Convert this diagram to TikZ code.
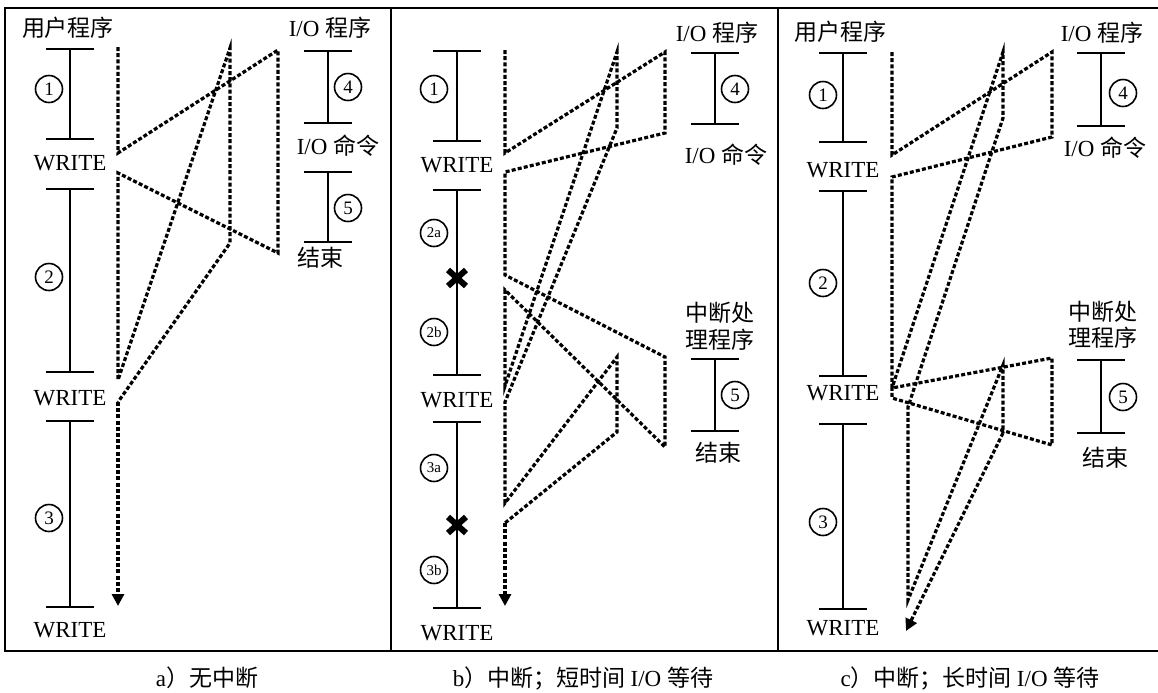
\documentclass[tikz,border=0pt]{standalone}
\usepackage{fontspec}
\setmainfont{Liberation Serif}
\newfontfamily\cjk{Noto Sans CJK SC}
\usetikzlibrary{arrows.meta,positioning}
\tikzset{
  prog/.style={line width=1.1pt,{Bar[width=24pt]}-{Bar[width=24pt]}},
  flow/.style={line width=1.6pt,dash pattern=on 2pt off 1.1pt},
  endarrow/.style={-{Triangle[length=6pt,width=6pt]}},
  num/.style={draw,circle,line width=0.8pt,minimum size=13.5pt,inner sep=0pt,
    font=\fontsize{9.5}{9.5}\selectfont},
  subnum/.style={num,font=\fontsize{7.5}{7.5}\selectfont},
  lbl/.style={font=\fontsize{11.5}{13}\selectfont,inner sep=1pt},
  capt/.style={font=\fontsize{11.5}{13}\selectfont},
  intr/.style={line width=3pt},
  frame/.style={line width=1.1pt},
}

\begin{document}
\begin{tikzpicture}[x=0.5pt,y=-0.5pt]

\useasboundingbox (0,0) rectangle (1158,692);
\fill[white] (0,0) rectangle (1158,692);

% frames
\draw[frame] (1158,8) -- (5,8) -- (5,651) -- (1158,651);
\draw[frame] (391,8) -- (391,651);
\draw[frame] (778,8) -- (778,651);

% ---- a) no interrupt
\node[lbl] (usera) at (68,28) {\cjk 用户程序};
\node[lbl] (ioa) at (330,28) {I/O \cjk 程序};
\node[lbl] (cmda) at (338,146) {I/O \cjk 命令};
\node[lbl] (enda) at (320,258) {\cjk 结束};
\node[lbl] (wa1) at (70,163) {WRITE};
\node[lbl] (wa2) at (70,398) {WRITE};
\node[lbl] (wa3) at (70,630) {WRITE};
\node[num] (na1) at (49,89) {1};
\node[num] (na2) at (49,277) {2};
\node[num] (na3) at (49,518) {3};
\node[num] (na4) at (348,87) {4};
\node[num] (na5) at (348,208) {5};

\draw[prog] (70,48) -- (70,140);
\draw[prog] (70,188) -- (70,373);
\draw[prog] (70,420) -- (70,608);
\draw[prog] (328,50) -- (328,124);
\draw[prog] (328,171) -- (328,243);

\coordinate (a0) at (118,47);
\coordinate (a1) at (118,153);
\coordinate (a2) at (278,50);
\coordinate (a3) at (278,253);
\coordinate (a4) at (118,173);
\coordinate (a5) at (118,380);
\coordinate (a6) at (230,48);
\coordinate (a7) at (230,243);
\coordinate (a8) at (118,402);
\coordinate (a9) at (118,606);
\draw[flow] (a0) -- (a1) -- (a2) -- (a3) -- (a4) -- (a5) -- (a6) -- (a7) -- (a8);
\draw[flow,endarrow] (a8) -- (a9);

% ---- b) interrupt, short I/O wait
\node[lbl] (iob) at (717,33) {I/O \cjk 程序};
\node[lbl] (cmdb) at (726,155) {I/O \cjk 命令};
\node[lbl] (hdlb1) at (720,313) {\cjk 中断处};
\node[lbl] (hdlb2) at (720,340) {\cjk 理程序};
\node[lbl] (endb) at (718,453) {\cjk 结束};
\node[lbl] (wb1) at (457,165) {WRITE};
\node[lbl] (wb2) at (457,400) {WRITE};
\node[lbl] (wb3) at (457,633) {WRITE};
\node[num] (nb1) at (434,89) {1};
\node[subnum] (nb2a) at (434,233) {2a};
\node[subnum] (nb2b) at (434,332) {2b};
\node[subnum] (nb3a) at (434,468) {3a};
\node[subnum] (nb3b) at (434,570) {3b};
\node[num] (nb4) at (735,89) {4};
\node[num] (nb5) at (735,395) {5};

\draw[prog] (457,50) -- (457,142);
\draw[prog] (457,189) -- (457,376);
\draw[prog] (457,421) -- (457,609);
\draw[prog] (715,52) -- (715,125);
\draw[prog] (715,358) -- (715,432);
\foreach \y in {278,525}
  \draw[intr] (448,\y-8) -- (466,\y+8) (448,\y+8) -- (466,\y-8);

\coordinate (b0) at (505,50);
\coordinate (b1) at (505,153);
\coordinate (b2) at (665,52);
\coordinate (b3) at (665,133);
\coordinate (b4) at (505,172);
\coordinate (b5) at (505,275);
\coordinate (b6) at (665,357);
\coordinate (b7) at (665,447);
\coordinate (b8) at (505,290);
\coordinate (b9) at (505,386);
\coordinate (b10) at (617,52);
\coordinate (b11) at (617,128);
\coordinate (b12) at (505,402);
\coordinate (b13) at (505,503);
\coordinate (b14) at (617,357);
\coordinate (b15) at (617,432);
\coordinate (b16) at (505,523);
\coordinate (b17) at (505,606);
\draw[flow] (b0) -- (b1) -- (b2) -- (b3) -- (b4) -- (b5) -- (b6) -- (b7) -- (b8)
  -- (b9) -- (b10) -- (b11) -- (b12) -- (b13) -- (b14) -- (b15) -- (b16);
\draw[flow,endarrow] (b16) -- (b17);

% ---- c) interrupt, long I/O wait
\node[lbl] (userc) at (840,32) {\cjk 用户程序};
\node[lbl] (ioc) at (1102,33) {I/O \cjk 程序};
\node[lbl] (cmdc) at (1105,148) {I/O \cjk 命令};
\node[lbl] (hdlc1) at (1103,312) {\cjk 中断处};
\node[lbl] (hdlc2) at (1103,338) {\cjk 理程序};
\node[lbl] (endc) at (1105,458) {\cjk 结束};
\node[lbl] (wc1) at (843,170) {WRITE};
\node[lbl] (wc2) at (843,393) {WRITE};
\node[lbl] (wc3) at (843,628) {WRITE};
\node[num] (nc1) at (823,95) {1};
\node[num] (nc2) at (823,283) {2};
\node[num] (nc3) at (823,522) {3};
\node[num] (nc4) at (1123,93) {4};
\node[num] (nc5) at (1123,397) {5};

\draw[prog] (843,52) -- (843,143);
\draw[prog] (843,190) -- (843,377);
\draw[prog] (843,423) -- (843,610);
\draw[prog] (1101,52) -- (1101,127);
\draw[prog] (1101,359) -- (1101,434);

\coordinate (c0) at (892,52);
\coordinate (c1) at (892,155);
\coordinate (c2) at (1052,52);
\coordinate (c3) at (1052,137);
\coordinate (c4) at (892,177);
\coordinate (c5) at (892,388);
\coordinate (c6) at (1052,358);
\coordinate (c7) at (1052,445);
\coordinate (c8) at (892,398);
\coordinate (c9) at (1003,52);
\coordinate (c10) at (1003,118);
\coordinate (c11) at (908,407);
\coordinate (c12) at (908,600);
\coordinate (c13) at (1003,365);
\coordinate (c14) at (1003,433);
\coordinate (c15) at (906,631);
\draw[flow] (c0) -- (c1) -- (c2) -- (c3) -- (c4) -- (c5) -- (c6) -- (c7) -- (c8)
  -- (c5) -- (c9) -- (c10) -- (c11) -- (c12) -- (c13) -- (c14);
\draw[flow,endarrow] (c14) -- (c15);

% captions
\node[capt] (capa) at (207,678) {a\cjk）无中断};
\node[capt] (capb) at (583,678) {b\cjk）中断；短时间 \rmfamily I/O \cjk 等待};
\node[capt] (capc) at (970,678) {c\cjk）中断；长时间 \rmfamily I/O \cjk 等待};

\end{tikzpicture}
\end{document}
